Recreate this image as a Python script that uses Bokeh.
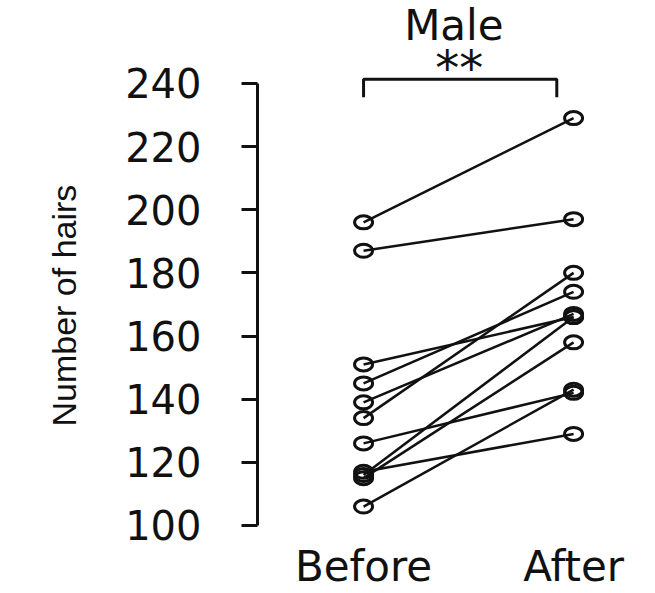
from bokeh.plotting import figure
from bokeh.models import Range1d, FixedTicker, ColumnDataSource, Title
from bokeh.core.properties import value
from bokeh.embed import file_html
from bokeh.resources import INLINE

# ---- data ----
categories = ["Before", "After"]
cat_pos = [0, 1]
before = [196, 187, 151, 145, 139, 134, 126, 116, 115, 117, 106]
after = [229, 197, 166, 174, 167, 180, 142, 166, 158, 129, 143]
y_ticks = [100, 120, 140, 160, 180, 200, 220, 240]
title_text = "Male"
signif_text = "**"
y_label = "Number of hairs"

W, H = 655, 593
p = figure(width=W, height=H, output_backend="svg", toolbar_location=None,
           x_range=Range1d(-0.505, 1.390), y_range=Range1d(96.2, 266.24),
           min_border_left=257, min_border_right=0, min_border_top=0,
           min_border_bottom=0)
p.outline_line_color = None
p.grid.visible = False
p.background_fill_color = "white"

# y axis
ya = p.yaxis[0]
ya.ticker = FixedTicker(ticks=y_ticks)
ya.bounds = (y_ticks[0], y_ticks[-1])
ya.axis_line_width = 3
ya.axis_line_color = "#111111"
ya.major_tick_line_width = 3
ya.major_tick_line_color = "#111111"
ya.major_tick_out = 16
ya.major_tick_in = 0
ya.minor_tick_line_color = None
ya.major_label_standoff = 40
ya.major_label_text_font = "DejaVu Sans"
ya.major_label_text_font_size = "40px"
ya.major_label_text_color = "#111111"

# y axis title, placed in the left margin
p.add_layout(Title(text=y_label, align="left", offset=111, standoff=80,
                   text_font="Liberation Sans", text_font_size="34px",
                   text_font_style="normal", text_color="#111111"), "left")

# x axis
xa = p.xaxis[0]
xa.ticker = FixedTicker(ticks=cat_pos)
xa.major_label_overrides = {c: n for c, n in zip(cat_pos, categories)}
xa.axis_line_color = None
xa.major_tick_line_color = None
xa.major_tick_out = 0
xa.major_tick_in = 0
xa.minor_tick_line_color = None
xa.major_label_standoff = 4
xa.major_label_text_font = "DejaVu Sans"
xa.major_label_text_font_size = "42px"
xa.major_label_text_color = "#111111"

# connecting lines
src = ColumnDataSource(dict(x0=[cat_pos[0]] * len(before), y0=before,
                            x1=[cat_pos[1]] * len(after), y1=after))
p.segment(x0="x0", y0="y0", x1="x1", y1="y1", source=src,
          line_color="#111111", line_width=2.5)

# open markers
pts = ColumnDataSource(dict(x=[cat_pos[0]] * len(before) + [cat_pos[1]] * len(after),
                            y=before + after))
p.ellipse(x="x", y="y", width=18, height=13, width_units="screen",
          height_units="screen", source=pts, fill_color=None,
          line_color="#111111", line_width=3)

# significance bracket
br_y, br_drop = 241.3, 235.6
br_x0, br_x1 = 0.0, 0.92
p.line(x=[br_x0, br_x0, br_x1, br_x1], y=[br_drop, br_y, br_y, br_drop],
       line_color="#111111", line_width=3)
p.text(x=[0.455], y=[244.8], text=[signif_text], text_font=value("DejaVu Sans"),
       text_font_size="48px", text_align="center", text_baseline="alphabetic",
       text_color="#111111")
p.text(x=[0.43], y=[258.3], text=[title_text], text_font=value("DejaVu Sans"),
       text_font_size="42px", text_align="center", text_baseline="alphabetic",
       text_color="#111111")

open("out.html", "w").write(file_html(p, INLINE))
